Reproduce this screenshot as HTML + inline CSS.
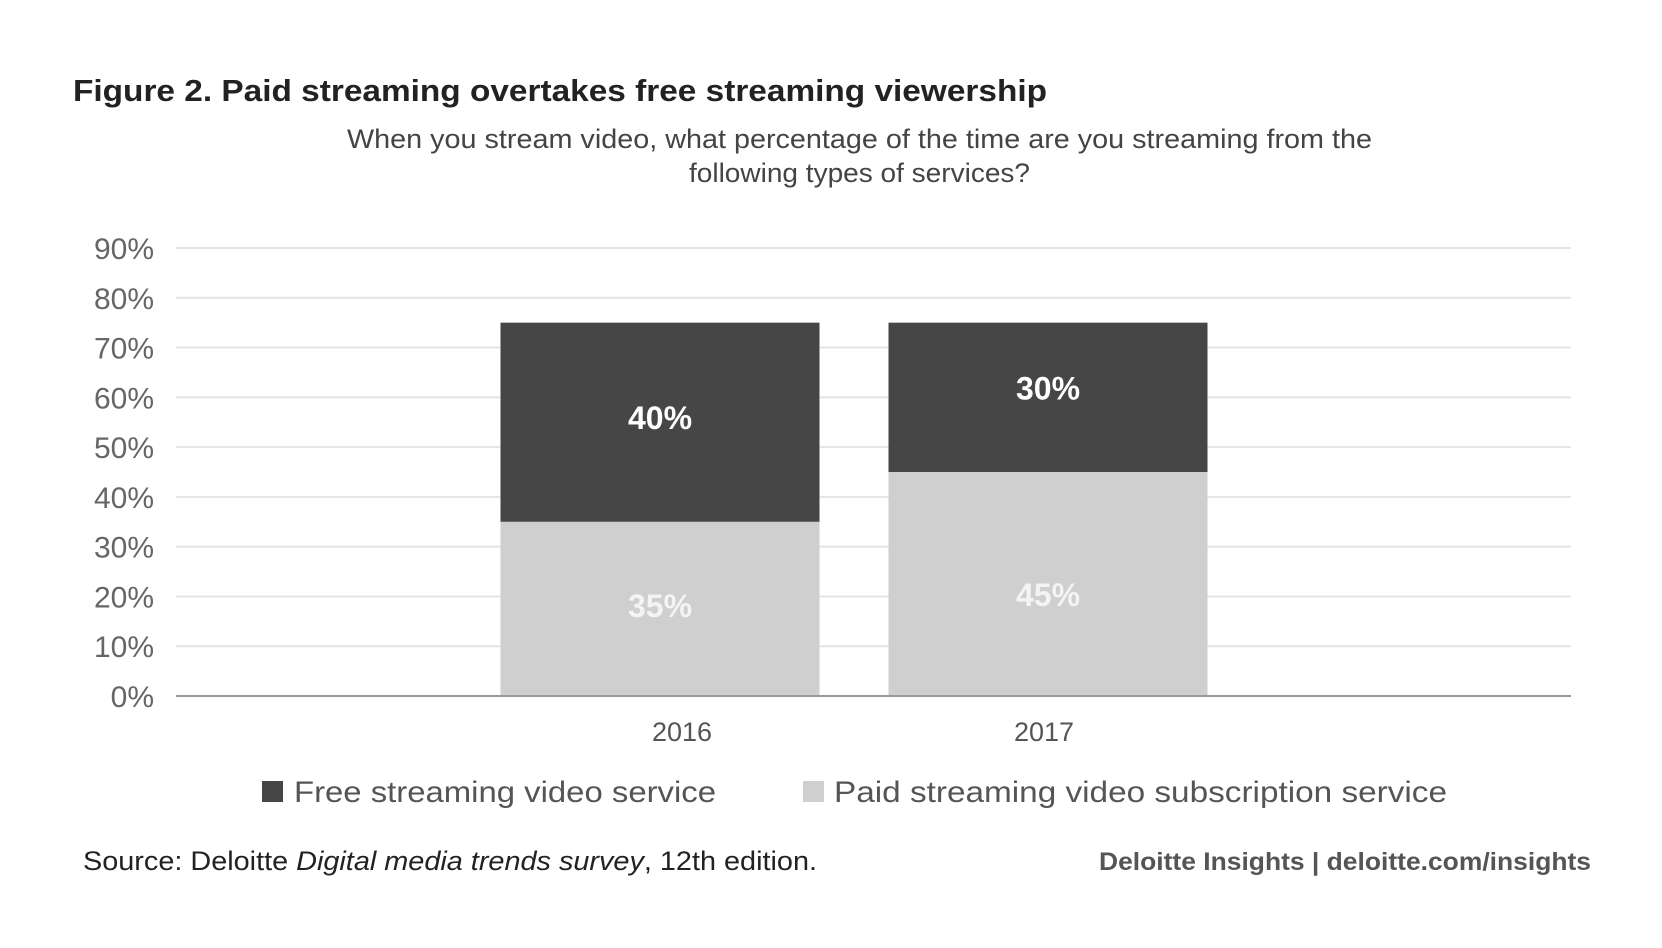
<!DOCTYPE html>
<html><head><meta charset="utf-8"><style>
html,body{margin:0;padding:0;background:#fff;}
svg{display:block;font-family:"Liberation Sans",sans-serif;}
</style></head><body>
<svg id="chart" width="1662" height="948" viewBox="0 0 1662 948">
<text x="73" y="101" font-size="31" font-weight="bold" fill="#222" textLength="974" lengthAdjust="spacingAndGlyphs">Figure 2. Paid streaming overtakes free streaming viewership</text>
<text x="347" y="148" font-size="27" fill="#444" textLength="1025" lengthAdjust="spacingAndGlyphs">When you stream video, what percentage of the time are you streaming from the</text>
<text x="689" y="182" font-size="27" fill="#444" textLength="341" lengthAdjust="spacingAndGlyphs">following types of services?</text>
<g id="grid"></g>
<g id="bars"></g>
<g id="xlabels"></g>
<rect x="262" y="781" width="21" height="21" fill="#464646"/>
<text x="294" y="802" font-size="30" fill="#555" textLength="422" lengthAdjust="spacingAndGlyphs">Free streaming video service</text>
<rect x="803" y="781" width="21" height="21" fill="#cfcfcf"/>
<text x="834" y="802" font-size="30" fill="#555" textLength="613" lengthAdjust="spacingAndGlyphs">Paid streaming video subscription service</text>
<text x="83" y="870" font-size="27" fill="#222" textLength="734" lengthAdjust="spacingAndGlyphs">Source: Deloitte <tspan font-style="italic">Digital media trends survey</tspan>, 12th edition.</text>
<text x="1099" y="870" font-size="25" font-weight="bold" fill="#555" textLength="492" lengthAdjust="spacingAndGlyphs">Deloitte Insights | deloitte.com/insights</text>
</svg>
<script>
const categories = ["2016", "2017"];
const paidValues = [35, 45];
const freeValues = [40, 30];
const yTicks = [0, 10, 20, 30, 40, 50, 60, 70, 80, 90];
const yTickLabels = ["0%", "10%", "20%", "30%", "40%", "50%", "60%", "70%", "80%", "90%"];

const NS = "http://www.w3.org/2000/svg";
const plotL = 176, plotR = 1571, baseY = 696, topY = 248, yMax = 90;
const y = v => baseY - (baseY - topY) * v / yMax;
const barW = 319;
const barCenters = [660, 1048];
const x = i => barCenters[i];
const freeLabelShift = [-4, -9];
const paidLabelShift = [-3, 11];
const xLabelShift = [22, -4];
function mk(tag, attrs, parent) {
  const e = document.createElementNS(NS, tag);
  for (const k in attrs) e.setAttribute(k, attrs[k]);
  parent.appendChild(e);
  return e;
}
const grid = document.getElementById("grid");
yTicks.forEach((t, i) => {
  if (t > 0) {
    const l = mk("line", {x1: plotL, x2: plotR, y1: y(t), y2: y(t), stroke: "#e4e4e4", "stroke-width": 2}, grid);
    
    
  }
  const tx = mk("text", {x: 154, y: y(t) + 11, "text-anchor": "end", "font-size": 30, fill: "#666"}, grid);
  tx.textContent = yTickLabels[i];
  
  
});
const bars = document.getElementById("bars");
categories.forEach((c, i) => {
  const cx = x(i), p = paidValues[i], f = freeValues[i];
  const rp = mk("rect", {x: cx - barW / 2, y: y(p), width: barW, height: y(0) - y(p), fill: "#cfcfcf"}, bars);
  
  
  const rf = mk("rect", {x: cx - barW / 2, y: y(p + f), width: barW, height: y(p) - y(p + f), fill: "#464646"}, bars);
  
  
  const lp = mk("text", {x: cx, y: (y(0) + y(p)) / 2 + 11 + paidLabelShift[i], "text-anchor": "middle", "font-size": 32, "font-weight": "bold", fill: "#f4f4f4"}, bars);
  lp.textContent = p + "%";
  
  
  const lf = mk("text", {x: cx, y: (y(p) + y(p + f)) / 2 + 11 + freeLabelShift[i], "text-anchor": "middle", "font-size": 32, "font-weight": "bold", fill: "#fff"}, bars);
  lf.textContent = f + "%";
  
  
});
const base = mk("line", {x1: plotL, x2: plotR, y1: baseY, y2: baseY, stroke: "#999", "stroke-width": 2}, bars);


const xl = document.getElementById("xlabels");
categories.forEach((c, i) => {
  const t = mk("text", {x: x(i) + xLabelShift[i], y: 741, "text-anchor": "middle", "font-size": 27, fill: "#555"}, xl);
  t.textContent = c;
  
  
});
</script>
</body></html>
